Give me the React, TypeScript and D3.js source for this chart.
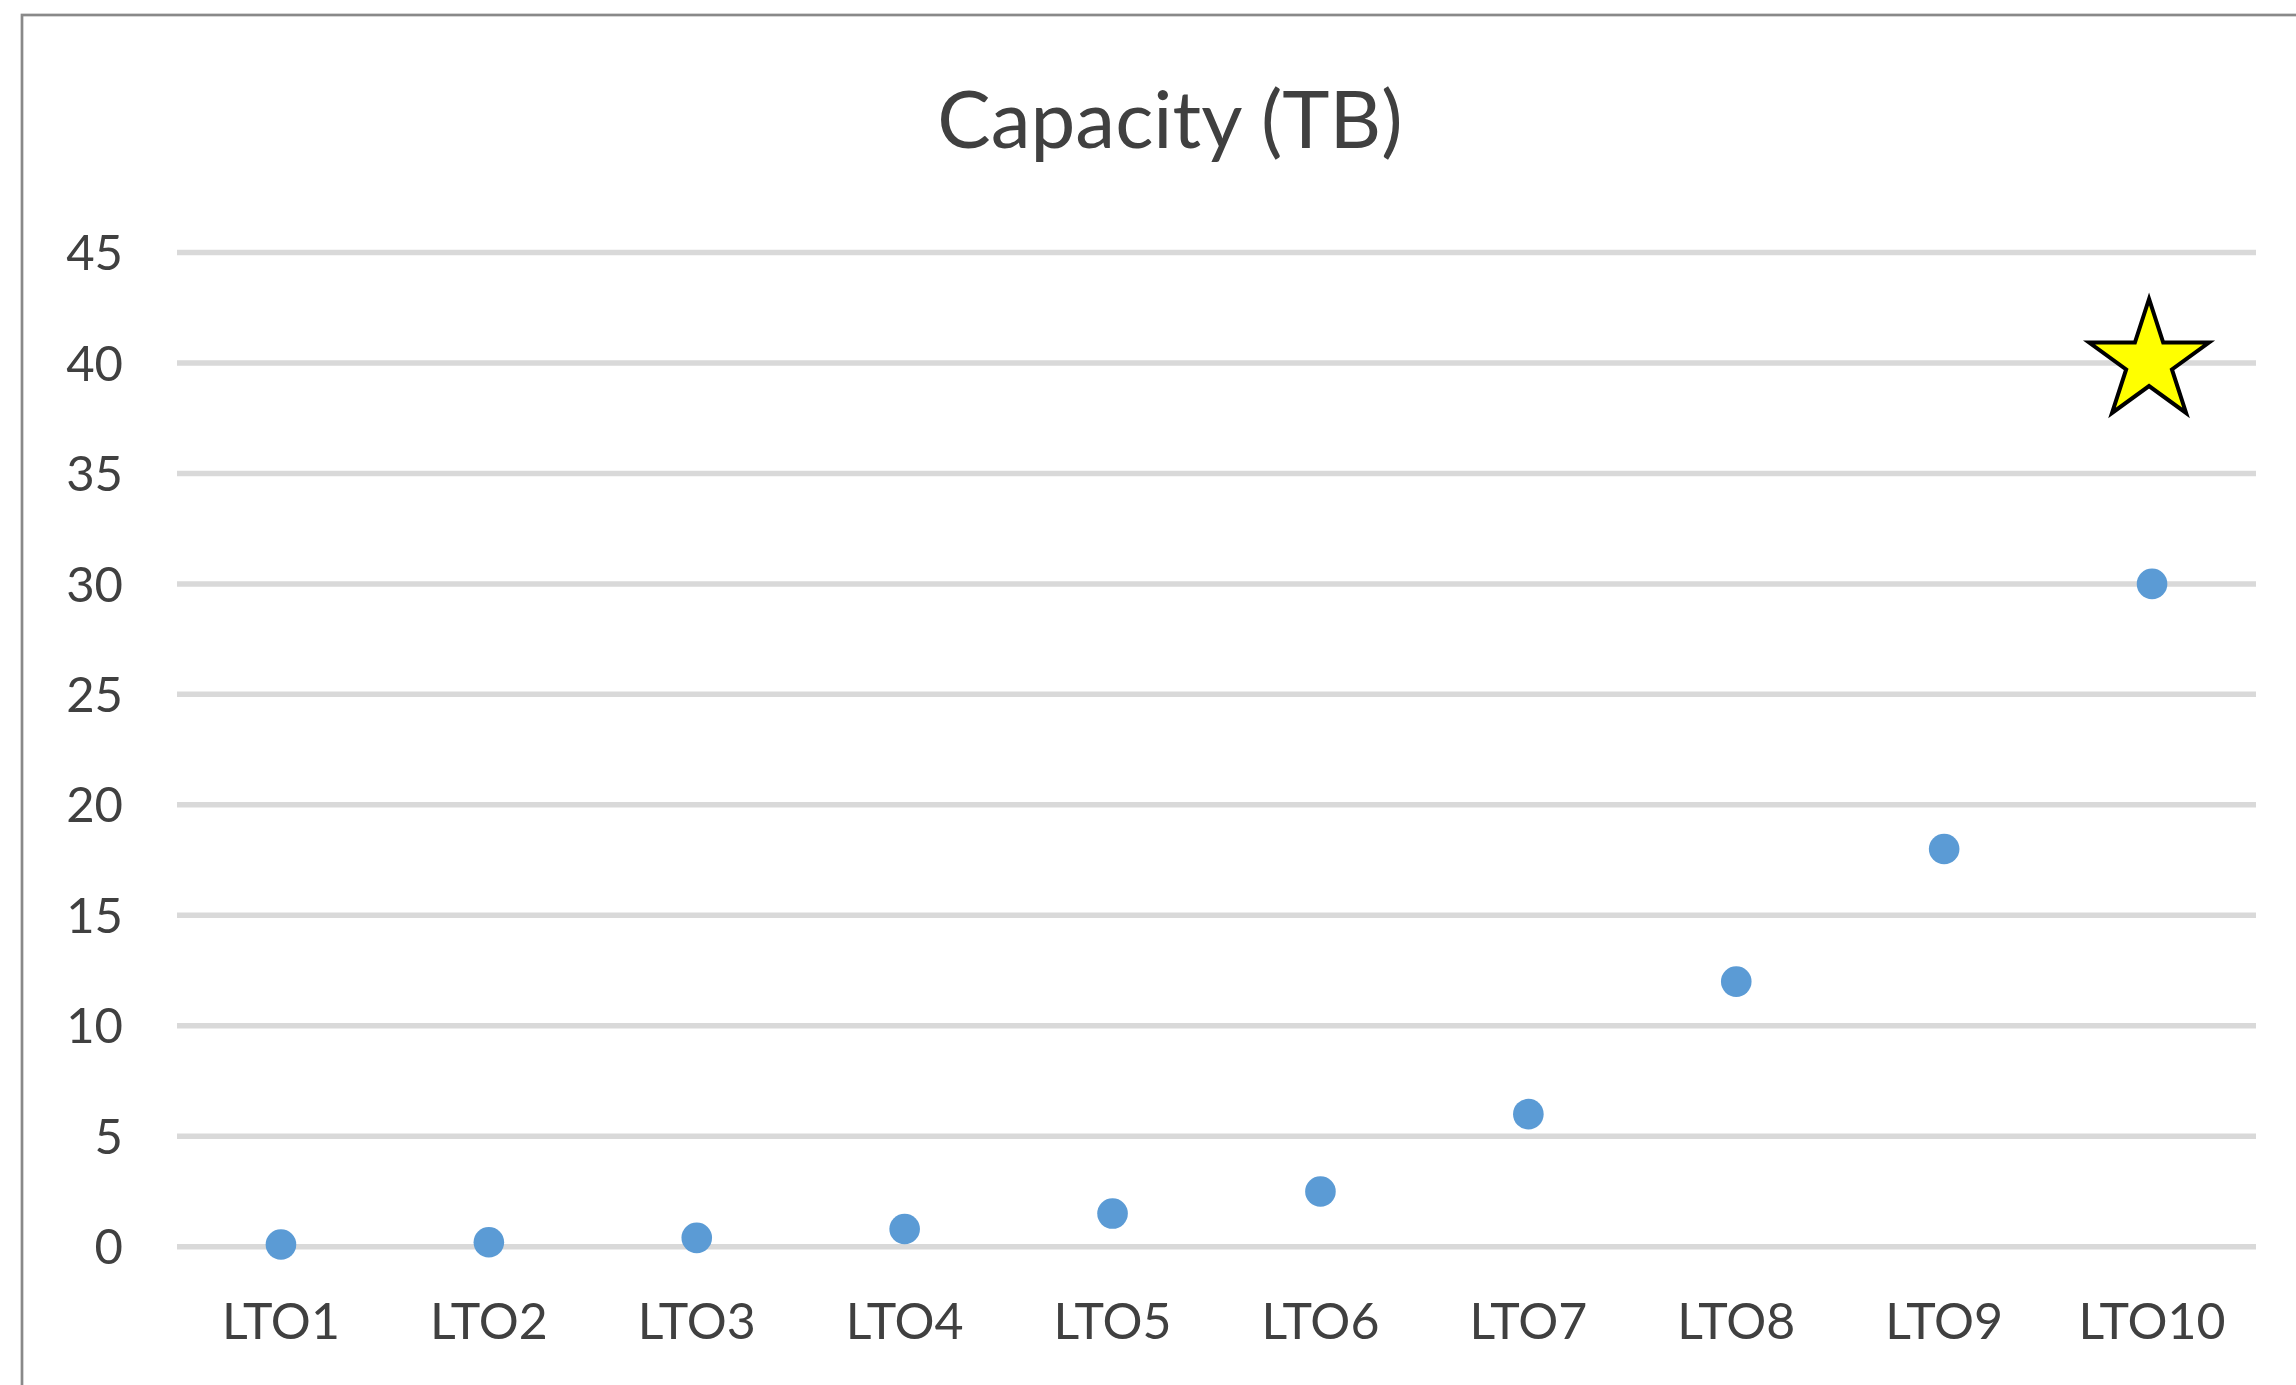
import React from "react";
import * as d3 from "d3";

const categories = ["LTO1", "LTO2", "LTO3", "LTO4", "LTO5", "LTO6", "LTO7", "LTO8", "LTO9", "LTO10"];
const capacityTB = [0.1, 0.2, 0.4, 0.8, 1.5, 2.5, 6, 12, 18, 30];
const yTicks = [0, 5, 10, 15, 20, 25, 30, 35, 40, 45];
const starCategory = "LTO10";
const starValue = 40;
const title = "Capacity (TB)";

const W = 2296;
const H = 1385;
const FONT = "Lato, 'Open Sans', 'DejaVu Sans', sans-serif";
const TEXT = "#404040";

export default function App() {
  const x = d3.scaleBand<string>().domain(categories).range([177, 2256]).padding(0);
  const y = d3.scaleLinear().domain([0, 45]).range([1246.7, 252.5]);
  const cx = (c: string) => (x(c) as number) + x.bandwidth() / 2;

  const R = 63;
  const r = R * 0.382;
  const starPts: [number, number][] = d3.range(10).map((i) => [
    (i * Math.PI) / 5,
    i % 2 === 0 ? R : r,
  ]);
  const starPath = d3.lineRadial().curve(d3.curveLinearClosed)(starPts) || "";

  return (
    <svg
      width={W}
      height={H}
      style={{ position: "absolute", left: 0, top: 0, display: "block", background: "#fff" }}
    >
      <rect x={0} y={0} width={W} height={H} fill="#ffffff" />
      <rect x={22} y={15} width={W + 40} height={H + 40} fill="#ffffff" stroke="#898989" strokeWidth={2.7} />
      <text
        x={1170}
        y={148}
        textAnchor="middle"
        fontFamily={FONT}
        fontSize={80}
        fill={TEXT}
      >
        {title}
      </text>
      {yTicks.map((t) => (
        <g key={t}>
          <line x1={177} x2={2256} y1={y(t)} y2={y(t)} stroke="#d9d9d9" strokeWidth={5.5} />
          <text
            x={123}
            y={y(t)}
            dy="0.36em"
            textAnchor="end"
            fontFamily={FONT}
            fontSize={49}
            fill={TEXT}
          >
            {t}
          </text>
        </g>
      ))}
      {categories.map((c) => (
        <text
          key={c}
          x={cx(c)}
          y={1339}
          textAnchor="middle"
          fontFamily={FONT}
          fontSize={50}
          fill={TEXT}
        >
          {c}
        </text>
      ))}
      {categories.map((c, i) => (
        <circle key={c} cx={cx(c)} cy={y(capacityTB[i])} r={15.3} fill="#5b9bd5" />
      ))}
      <path
        d={starPath}
        transform={`translate(${cx(starCategory) - 3},${y(starValue) - 1})`}
        fill="#ffff00"
        stroke="#000000"
        strokeWidth={4}
        strokeLinejoin="miter"
      />
    </svg>
  );
}
